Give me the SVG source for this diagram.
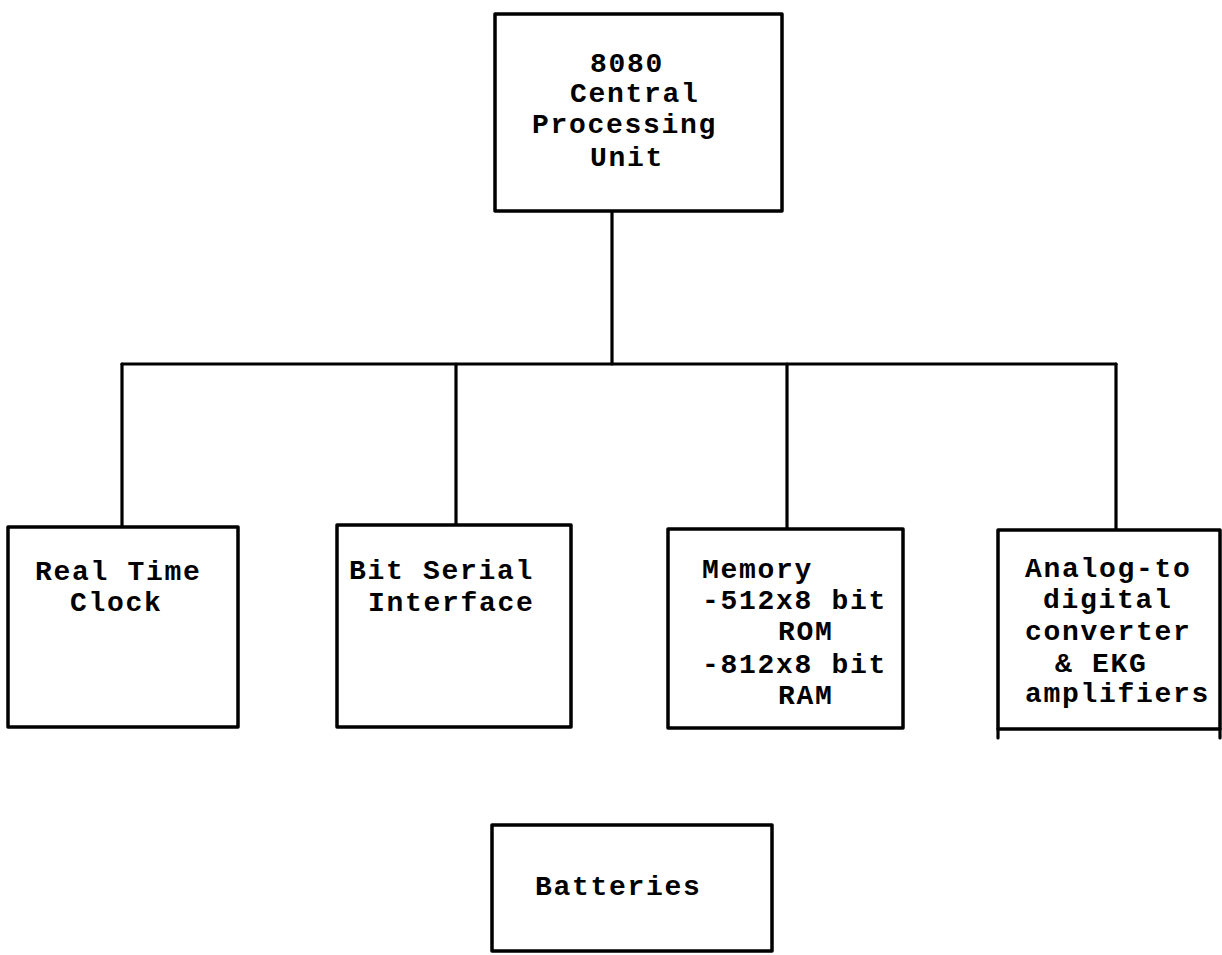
<svg xmlns="http://www.w3.org/2000/svg" width="1222" height="955" viewBox="0 0 1222 955">
<style>
.box{fill:#fff;stroke:#000;stroke-width:3.5;stroke-linejoin:round}
.con{fill:none;stroke:#000;stroke-width:3.2;stroke-linecap:round}
text{font-family:"Liberation Mono","Courier New",monospace;font-weight:bold;font-size:28px;letter-spacing:1.7px;fill:#000}
</style>
<rect width="1222" height="955" fill="#fff"/>
<g id="connectors">
<path class="con" d="M612,211 V364"/>
<path class="con" d="M122,364 H1116"/>
<path class="con" d="M122,364 V527"/>
<path class="con" d="M456,364 V525"/>
<path class="con" d="M787,364 V529"/>
<path class="con" d="M1116,364 V530"/>
</g>
<g id="cpu">
<rect class="box" x="495" y="14" width="287" height="197"/>
<text x="590" y="72">8080</text>
<text x="570" y="102">Central</text>
<text x="532" y="133">Processing</text>
<text x="590" y="166">Unit</text>
</g>
<g id="rtc">
<rect class="box" x="8" y="527" width="230" height="200"/>
<text x="35" y="580">Real Time</text>
<text x="70" y="611">Clock</text>
</g>
<g id="bsi">
<rect class="box" x="337" y="525" width="234" height="202"/>
<text x="349" y="579">Bit Serial</text>
<text x="368" y="611">Interface</text>
</g>
<g id="memory">
<rect class="box" x="668" y="529" width="235" height="199"/>
<text x="702" y="578">Memory</text>
<text x="702" y="609">-512x8 bit</text>
<text x="778" y="640">ROM</text>
<text x="702" y="673">-812x8 bit</text>
<text x="778" y="704">RAM</text>
</g>
<g id="adc">
<rect class="box" x="998" y="530" width="222" height="199"/>
<path class="con" d="M998,729 V738 M1220,729 V738"/>
<text x="1025" y="577">Analog-to</text>
<text x="1043" y="608">digital</text>
<text x="1025" y="640">converter</text>
<text x="1055" y="672">&amp; EKG</text>
<text x="1025" y="702">amplifiers</text>
</g>
<g id="batteries">
<rect class="box" x="492" y="825" width="280" height="126"/>
<text x="535" y="895">Batteries</text>
</g>
</svg>
